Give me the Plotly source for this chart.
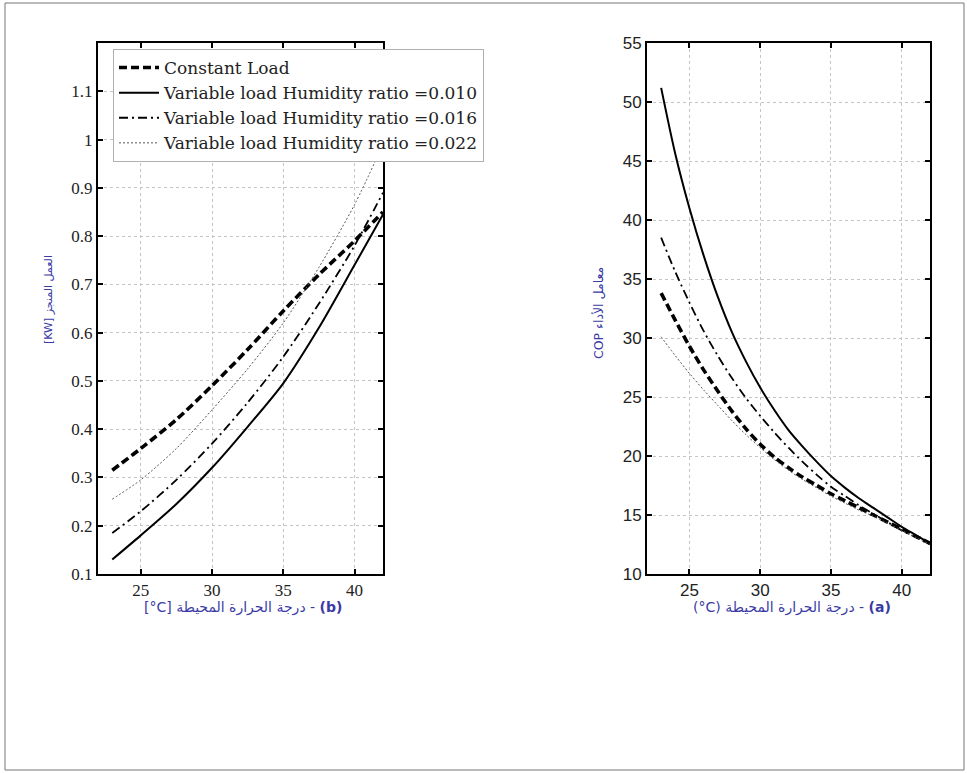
import plotly.graph_objects as go

# ---------------- data ----------------
temps = [23, 24, 25, 26, 27, 28, 29, 30, 31, 32, 33, 34, 35, 36, 37, 38, 39, 40, 41, 42]

# panel (b): work (kW)
work_temps = [23, 25, 27.5, 30, 32.5, 35, 37.5, 40, 42]
work_constant = [0.315, 0.36, 0.42, 0.49, 0.565, 0.645, 0.72, 0.79, 0.85]
work_w010 = [0.13, 0.18, 0.245, 0.32, 0.405, 0.495, 0.61, 0.74, 0.845]
work_w016 = [0.185, 0.23, 0.295, 0.37, 0.455, 0.55, 0.66, 0.78, 0.89]
work_w022 = [0.255, 0.295, 0.36, 0.44, 0.525, 0.62, 0.735, 0.865, 0.99]

# panel (a): COP
cop_constant = [33.8, 31.5, 29.3, 27.3, 25.5, 23.8, 22.3, 21.0, 19.9, 19.0, 18.2, 17.5, 16.8, 16.2, 15.6, 15.0, 14.4, 13.8, 13.2, 12.6]
cop_w010 = [51.2, 45.6, 41.0, 37.0, 33.5, 30.5, 28.0, 25.8, 23.9, 22.2, 20.8, 19.5, 18.3, 17.3, 16.4, 15.6, 14.8, 14.0, 13.3, 12.6]
cop_w016 = [38.5, 35.6, 33.0, 30.6, 28.5, 26.6, 24.9, 23.4, 22.0, 20.7, 19.5, 18.4, 17.4, 16.6, 15.8, 15.1, 14.4, 13.7, 13.1, 12.5]
cop_w022 = [30.1, 28.5, 27.0, 25.6, 24.3, 23.0, 21.8, 20.7, 19.7, 18.8, 18.0, 17.3, 16.6, 16.0, 15.4, 14.9, 14.3, 13.7, 13.1, 12.5]

series_names = ["Constant Load",
                "Variable load Humidity ratio =0.010",
                "Variable load Humidity ratio =0.016",
                "Variable load Humidity ratio =0.022"]

x_ticks = [25, 30, 35, 40]
work_ticks = [0.1, 0.2, 0.3, 0.4, 0.5, 0.6, 0.7, 0.8, 0.9, 1.0, 1.1]
work_tick_labels = ["0.1", "0.2", "0.3", "0.4", "0.5", "0.6", "0.7", "0.8", "0.9", "1", "1.1"]
cop_ticks = [10, 15, 20, 25, 30, 35, 40, 45, 50, 55]

# ---------------- styles ----------------
styles = [
    dict(color="black", width=3.6, dash="8px,4px"),
    dict(color="black", width=2.0, dash="solid"),
    dict(color="black", width=1.8, dash="9px,4px,2px,4px"),
    dict(color="#555555", width=1.0, dash="2px,2px"),
]

W, H = 967, 773
fig = go.Figure()

work_series = [work_constant, work_w010, work_w016, work_w022]
cop_series = [cop_constant, cop_w010, cop_w016, cop_w022]

for name, ys, st in zip(series_names, work_series, styles):
    fig.add_trace(go.Scatter(x=work_temps, y=ys, mode="lines", name=name,
                             line=dict(st, shape="spline", smoothing=0.8),
                             xaxis="x", yaxis="y", showlegend=True))
for name, ys, st in zip(series_names, cop_series, styles):
    fig.add_trace(go.Scatter(x=temps, y=ys, mode="lines", name=name,
                             line=dict(st, shape="spline", smoothing=0.8),
                             xaxis="x2", yaxis="y2", showlegend=False))

def px_x(p):
    return p / W

def px_y(p):
    return 1 - p / H

ydom = [px_y(574), px_y(43)]

common_axis = dict(showline=True, linecolor="black", linewidth=2, mirror="allticks",
                   ticks="inside", ticklen=5, tickwidth=1.5, tickcolor="black",
                   showgrid=True, gridcolor="#c4c4c4", griddash="dot", gridwidth=1,
                   zeroline=False, automargin=False)

serif = dict(family="Liberation Serif", size=17, color="#222222")
sans = dict(family="Liberation Sans", size=17, color="#222222")

fig.update_layout(
    width=W, height=H,
    margin=dict(l=0, r=0, t=0, b=0),
    paper_bgcolor="white", plot_bgcolor="white",
    xaxis=dict(common_axis, domain=[px_x(98), px_x(383)], range=[22, 42],
               tickvals=x_ticks, tickfont=serif, anchor="y"),
    yaxis=dict(common_axis, domain=ydom, range=[0.1, 1.2],
               tickvals=work_ticks, ticktext=work_tick_labels, tickfont=serif, anchor="x"),
    xaxis2=dict(common_axis, domain=[px_x(647), px_x(930)], range=[22, 42],
                tickvals=x_ticks, tickfont=sans, anchor="y2"),
    yaxis2=dict(common_axis, domain=ydom, range=[10, 55],
                tickvals=cop_ticks, tickfont=sans, anchor="x2"),
    legend=dict(x=px_x(113), y=px_y(49), xanchor="left", yanchor="top",
                bgcolor="white", bordercolor="#b0b0b0", borderwidth=1,
                font=dict(family="DejaVu Serif", size=17, color="#222222"),
                tracegroupgap=0, itemwidth=40),
    showlegend=True,
)

title_font = dict(family="DejaVu Sans", size=11, color="#3b3ba6")
fig.add_annotation(text="[KW] العمل المنجز", xref="paper", yref="paper",
                   x=px_x(48), y=px_y(300), xanchor="center", yanchor="middle",
                   showarrow=False, textangle=-90, font=dict(title_font, size=11))
fig.add_annotation(text="COP معامل الأداء", xref="paper", yref="paper",
                   x=px_x(598), y=px_y(313), xanchor="center", yanchor="middle",
                   showarrow=False, textangle=-90, font=dict(title_font, size=12.5))
fig.add_annotation(text="[°C] درجة الحرارة المحيطة - <b>(b)</b>", xref="paper", yref="paper",
                   x=px_x(243), y=px_y(607), xanchor="center", yanchor="middle",
                   showarrow=False, font=dict(title_font, size=14))
fig.add_annotation(text="(°C) درجة الحرارة المحيطة - <b>(a)</b>", xref="paper", yref="paper",
                   x=px_x(792), y=px_y(607), xanchor="center", yanchor="middle",
                   showarrow=False, font=dict(title_font, size=14))

# outer frame of the picture
fig.add_shape(type="rect", xref="paper", yref="paper",
              x0=px_x(5), x1=px_x(964), y0=px_y(770), y1=px_y(3),
              line=dict(color="#777777", width=1), fillcolor="rgba(0,0,0,0)", layer="below")

fig.write_html("out.html", config={"displayModeBar": False},
               post_script="document.body.style.margin='0px';document.documentElement.style.overflow='hidden';")
